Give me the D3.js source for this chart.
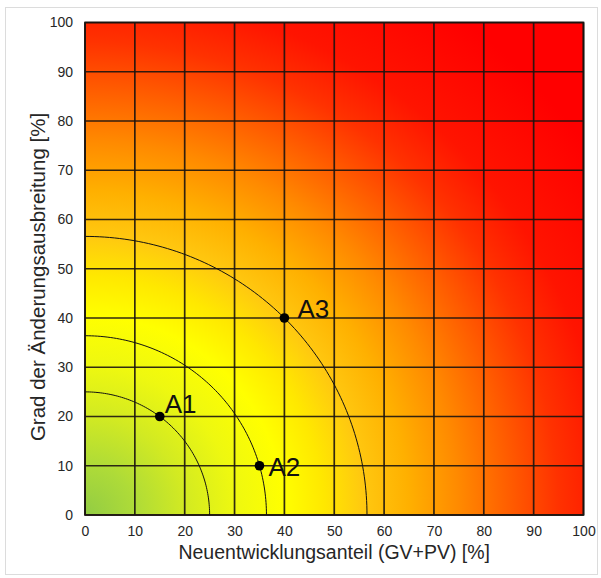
<!DOCTYPE html>
<html>
<head>
<meta charset="utf-8">
<script src="https://cdn.jsdelivr.net/npm/d3@7/dist/d3.min.js"></script>
<style>
  html, body { margin: 0; padding: 0; background: #fff; }
  svg { display: block; font-family: "Liberation Sans", Arial, sans-serif; }
</style>
</head>
<body>
<svg id="chart" width="601" height="578"></svg>
<script>
// Axis ticks (percent)
const xTickValues = [0, 10, 20, 30, 40, 50, 60, 70, 80, 90, 100];
const yTickValues = [0, 10, 20, 30, 40, 50, 60, 70, 80, 90, 100];

// Assessed variants
const pointNames = ["A1", "A2", "A3"];
const pointX = [15, 35, 40];   // Neuentwicklungsanteil (GV+PV) [%]
const pointY = [20, 10, 40];   // Grad der Änderungsausbreitung [%]

// Background colour ramp by distance from the origin
const rampDistance = [0, 10, 20, 30, 40, 48, 56, 65, 75, 85, 95, 105, 125];
const rampColor = ["#92cc44", "#aedb38", "#d2ea22", "#eef810", "#ffff00", "#ffe800",
                   "#ffc810", "#ffb000", "#ff8a00", "#ff5e00", "#ff3200", "#ff1400", "#ff0000"];

const xTitle = "Neuentwicklungsanteil (GV+PV) [%]";
const yTitle = "Grad der Änderungsausbreitung [%]";

const svg = d3.select("#chart");
const plot = { left: 85, right: 583.5, top: 22.5, bottom: 515 };

const x = d3.scaleLinear().domain([0, 100]).range([plot.left, plot.right]);
const y = d3.scaleLinear().domain([0, 100]).range([plot.bottom, plot.top]);

// Light frame around the figure
svg.append("rect")
  .attr("x", 5.5).attr("y", 7.5).attr("width", 592).attr("height", 567)
  .attr("fill", "#fff").attr("stroke", "#dcdcdc").attr("stroke-width", 1);

// Radial ramp centred on the origin
const maxD = rampDistance[rampDistance.length - 1];
const defs = svg.append("defs");
const grad = defs.append("radialGradient")
  .attr("id", "bg")
  .attr("gradientUnits", "userSpaceOnUse")
  .attr("cx", x(0)).attr("cy", y(0)).attr("fx", x(0)).attr("fy", y(0))
  .attr("r", x(maxD) - x(0));
grad.selectAll("stop").data(rampDistance).join("stop")
  .attr("offset", d => d / maxD)
  .attr("stop-color", (d, i) => rampColor[i]);

defs.append("clipPath").attr("id", "plotClip")
  .append("rect")
  .attr("x", x(0)).attr("y", y(100))
  .attr("width", x(100) - x(0)).attr("height", y(0) - y(100));

svg.append("rect")
  .attr("x", x(0)).attr("y", y(100))
  .attr("width", x(100) - x(0)).attr("height", y(0) - y(100))
  .attr("fill", "url(#bg)");

// Grid
const grid = svg.append("g").attr("stroke", "#1c1410").attr("stroke-width", 1.7).attr("stroke-opacity", 0.9);
grid.selectAll("line.v").data(xTickValues).join("line")
  .attr("class", "v")
  .attr("x1", d => x(d)).attr("x2", d => x(d))
  .attr("y1", y(0)).attr("y2", y(100));
grid.selectAll("line.h").data(yTickValues).join("line")
  .attr("class", "h")
  .attr("y1", d => y(d)).attr("y2", d => y(d))
  .attr("x1", x(0)).attr("x2", x(100));

// Iso-distance arcs through each variant
const arcLine = d3.line().x(d => x(d[0])).y(d => y(d[1]));
const arcG = svg.append("g").attr("clip-path", "url(#plotClip)");
pointNames.forEach((name, i) => {
  const r = Math.hypot(pointX[i], pointY[i]);
  const pts = d3.range(0, 91).map(a => {
    const t = a * Math.PI / 180;
    return [r * Math.cos(t), r * Math.sin(t)];
  });
  arcG.append("path")
    .attr("d", arcLine(pts))
    .attr("fill", "none")
    .attr("stroke", "#111")
    .attr("stroke-width", 1);
});

// Axes
const xAxis = svg.append("g")
  .attr("transform", `translate(0,${y(0)})`)
  .call(d3.axisBottom(x).tickValues(xTickValues).tickSize(0).tickPadding(11));
const yAxis = svg.append("g")
  .attr("transform", `translate(${x(0)},0)`)
  .call(d3.axisLeft(y).tickValues(yTickValues).tickSize(0).tickPadding(12));
[xAxis, yAxis].forEach(g => {
  g.select(".domain").remove();
  g.selectAll("text")
    .attr("font-family", "'Liberation Sans', Arial, sans-serif")
    .attr("font-size", 14)
    .attr("fill", "#262626");
});

// Points and labels
const labelOffset = { A1: [5, -4], A2: [9, 10], A3: [13, 0] };
const pg = svg.append("g");
pointNames.forEach((name, i) => {
  pg.append("circle")
    .attr("cx", x(pointX[i])).attr("cy", y(pointY[i]))
    .attr("r", 4.8).attr("fill", "#000");
  pg.append("text")
    .attr("x", x(pointX[i]) + labelOffset[name][0])
    .attr("y", y(pointY[i]) + labelOffset[name][1])
    .attr("font-size", 26)
    .attr("fill", "#111")
    .text(name);
});

// Plot border
svg.append("rect")
  .attr("x", x(0)).attr("y", y(100))
  .attr("width", x(100) - x(0)).attr("height", y(0) - y(100))
  .attr("fill", "none").attr("stroke", "#1c1410").attr("stroke-width", 1.7);

// Axis titles
svg.append("text")
  .attr("x", (x(0) + x(100)) / 2)
  .attr("y", 559)
  .attr("text-anchor", "middle")
  .attr("font-size", 19.5)
  .attr("fill", "#262626")
  .text(xTitle);

svg.append("text")
  .attr("transform", "translate(45,277) rotate(-90)")
  .attr("text-anchor", "middle")
  .attr("font-size", 20.5)
  .attr("fill", "#262626")
  .text(yTitle);
</script>
</body>
</html>
